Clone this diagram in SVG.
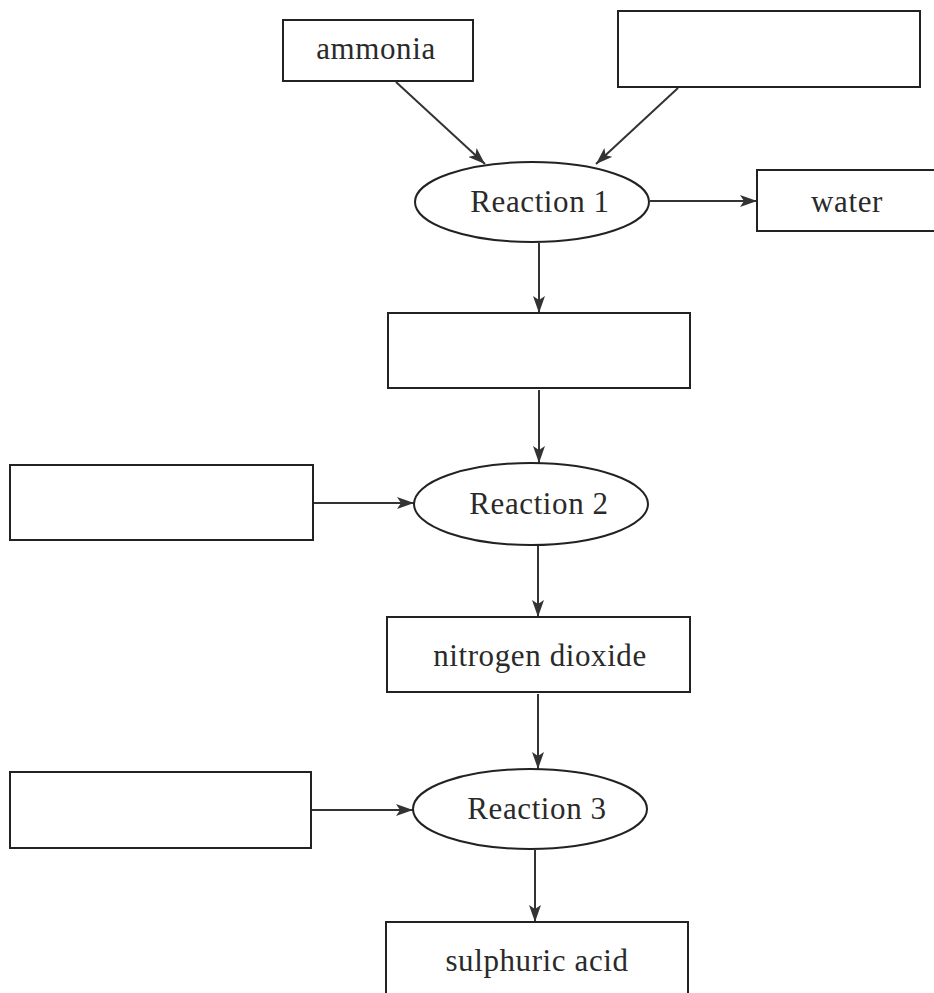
<svg xmlns="http://www.w3.org/2000/svg" width="934" height="993" viewBox="0 0 934 993">
<style>
.box{fill:#fff;stroke:#222;stroke-width:2}
.ell{fill:#fff;stroke:#222;stroke-width:2}
text{font-family:'Liberation Serif','Times New Roman','DejaVu Serif',serif;font-size:31px;fill:#2a2a2a;text-anchor:middle;letter-spacing:0.6px}
.c{stroke:#333;stroke-width:2;fill:none;marker-end:url(#ah)}
</style>
<defs>
<marker id="ah" markerUnits="userSpaceOnUse" markerWidth="17" markerHeight="12" viewBox="0 0 17 12" refX="17" refY="6" orient="auto">
<path d="M0,0 L17,6 L0,12 L4,6 z" fill="#333"/>
</marker>
</defs>
<rect width="934" height="993" fill="#fff"/>
<g id="connectors">
<line class="c" x1="396" y1="82" x2="485" y2="164"/>
<line class="c" x1="678" y1="88" x2="596" y2="164"/>
<line class="c" x1="650" y1="201" x2="757" y2="201"/>
<line class="c" x1="539" y1="243" x2="539" y2="313"/>
<line class="c" x1="539" y1="390" x2="539" y2="463"/>
<line class="c" x1="313" y1="503" x2="414" y2="503"/>
<line class="c" x1="538" y1="546" x2="538" y2="617"/>
<line class="c" x1="538" y1="694" x2="538" y2="769"/>
<line class="c" x1="311" y1="810" x2="413" y2="810"/>
<line class="c" x1="535" y1="850" x2="535" y2="922"/>
</g>
<g id="ammonia"><rect class="box" x="283" y="20" width="190" height="61"/><text x="376" y="59">ammonia</text></g>
<g id="blank1"><rect class="box" x="618" y="11" width="302" height="76"/></g>
<g id="reaction1"><ellipse class="ell" cx="532" cy="202" rx="117" ry="40"/><text x="540" y="212">Reaction 1</text></g>
<g id="water"><rect class="box" x="757" y="170" width="190" height="61"/><text x="847" y="212">water</text></g>
<g id="blank2"><rect class="box" x="388" y="313" width="302" height="75"/></g>
<g id="blank3"><rect class="box" x="10" y="465" width="303" height="75"/></g>
<g id="reaction2"><ellipse class="ell" cx="531" cy="504" rx="117" ry="41"/><text x="539" y="514">Reaction 2</text></g>
<g id="nitrogen-dioxide"><rect class="box" x="387" y="617" width="303" height="75"/><text x="540" y="666">nitrogen dioxide</text></g>
<g id="blank4"><rect class="box" x="10" y="772" width="301" height="76"/></g>
<g id="reaction3"><ellipse class="ell" cx="530" cy="809" rx="117" ry="40"/><text x="537" y="819">Reaction 3</text></g>
<g id="sulphuric-acid"><rect class="box" x="386" y="922" width="302" height="90"/><text x="537" y="971">sulphuric acid</text></g>
</svg>
